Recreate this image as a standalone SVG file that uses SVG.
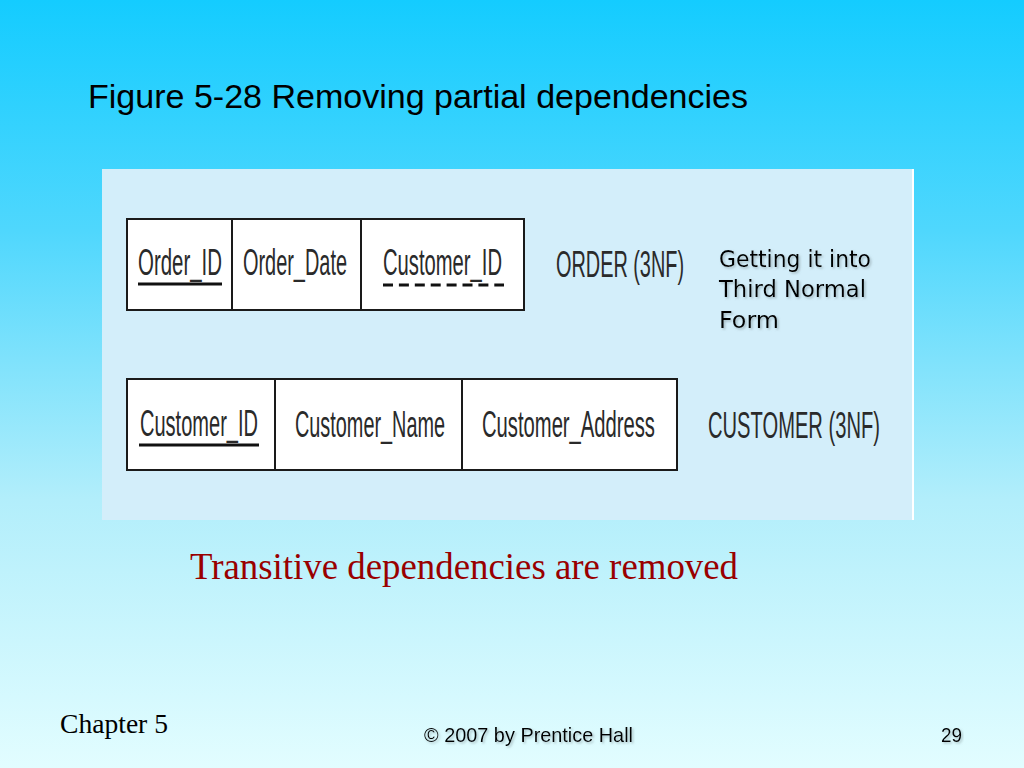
<svg xmlns="http://www.w3.org/2000/svg" width="1024" height="768" viewBox="0 0 1024 768">
  <defs>
    <linearGradient id="bg" x1="0" y1="0" x2="0" y2="1">
      <stop offset="0" stop-color="#14ccff"/>
      <stop offset="0.3" stop-color="#4fd7fd"/>
      <stop offset="0.65" stop-color="#b2eefb"/>
      <stop offset="1" stop-color="#e2fdff"/>
    </linearGradient>
    <filter id="shadow" x="-5%" y="-20%" width="110%" height="150%">
      <feDropShadow dx="1.5" dy="1.5" stdDeviation="0.8" flood-color="#7a8a90" flood-opacity="0.55"/>
    </filter>
  </defs>
  <style>
    .cell { fill: #ffffff; stroke: #1a1a1a; stroke-width: 2; }
    .div { stroke: #1a1a1a; stroke-width: 2; }
    .attr { font-family: "Liberation Sans", Arial, sans-serif; font-size: 36px; fill: #2a2a2a; }
    .key { stroke: #111; stroke-width: 3; }
    .fk { stroke: #111; stroke-width: 3; stroke-dasharray: 10 5.9; }
    .note { font-family: "DejaVu Sans", Tahoma, sans-serif; font-size: 22.5px; fill: #000; }
    .foot { font-family: "Liberation Sans", Arial, sans-serif; font-size: 21px; fill: #000; }
  </style>

  <rect x="0" y="0" width="1024" height="768" fill="url(#bg)"/>

  <text id="title" x="88" y="108" font-family="Liberation Sans, Arial, sans-serif" font-size="34" fill="#000" textLength="660" lengthAdjust="spacingAndGlyphs">Figure 5-28 Removing partial dependencies</text>

  <g id="panel">
    <rect x="102" y="169" width="810" height="351" fill="#d3eefa"/>
    <rect x="912" y="169" width="2" height="351" fill="#ffffff"/>
  </g>

  <g id="order-table">
    <rect class="cell" x="127" y="219" width="397" height="91"/>
    <line class="div" x1="232" y1="219" x2="232" y2="310"/>
    <line class="div" x1="361" y1="219" x2="361" y2="310"/>
    <text class="attr" transform="matrix(0.56 0 0 1 138 275)" textLength="150" lengthAdjust="spacingAndGlyphs">Order_ID</text>
    <line class="key" x1="138" y1="284" x2="222" y2="284"/>
    <text class="attr" transform="matrix(0.56 0 0 1 243 275)" textLength="185.7" lengthAdjust="spacingAndGlyphs">Order_Date</text>
    <text class="attr" transform="matrix(0.56 0 0 1 383 275)" textLength="212.5" lengthAdjust="spacingAndGlyphs">Customer_ID</text>
    <line class="fk" x1="383" y1="285" x2="504" y2="285"/>
  </g>
  <text id="order-label" class="attr" transform="matrix(0.56 0 0 1 556 277)" textLength="228.6" lengthAdjust="spacingAndGlyphs">ORDER (3NF)</text>

  <g id="note" filter="url(#shadow)">
    <text class="note" x="719" y="267" textLength="152" lengthAdjust="spacingAndGlyphs">Getting it into</text>
    <text class="note" x="719" y="297" textLength="147" lengthAdjust="spacingAndGlyphs">Third Normal</text>
    <text class="note" x="719" y="328" textLength="60" lengthAdjust="spacingAndGlyphs">Form</text>
  </g>

  <g id="customer-table">
    <rect class="cell" x="127" y="379" width="550" height="91"/>
    <line class="div" x1="275" y1="379" x2="275" y2="470"/>
    <line class="div" x1="462" y1="379" x2="462" y2="470"/>
    <text class="attr" transform="matrix(0.56 0 0 1 140 436)" textLength="210.7" lengthAdjust="spacingAndGlyphs">Customer_ID</text>
    <line class="key" x1="139" y1="445" x2="259" y2="445"/>
    <text class="attr" transform="matrix(0.56 0 0 1 295 437)" textLength="267.9" lengthAdjust="spacingAndGlyphs">Customer_Name</text>
    <text class="attr" transform="matrix(0.56 0 0 1 482 437)" textLength="308.9" lengthAdjust="spacingAndGlyphs">Customer_Address</text>
  </g>
  <text id="customer-label" class="attr" transform="matrix(0.56 0 0 1 708 438)" textLength="307.1" lengthAdjust="spacingAndGlyphs">CUSTOMER (3NF)</text>

  <text id="caption" x="190" y="579" font-family="Liberation Serif, Times New Roman, serif" font-size="37" fill="#990000" textLength="548" lengthAdjust="spacingAndGlyphs">Transitive dependencies are removed</text>

  <g id="footer">
    <text x="60" y="733" font-family="Liberation Serif, Times New Roman, serif" font-size="27.5" fill="#000" textLength="108" lengthAdjust="spacingAndGlyphs">Chapter 5</text>
    <text class="foot" x="424" y="742" filter="url(#shadow)" textLength="209" lengthAdjust="spacingAndGlyphs">© 2007 by Prentice Hall</text>
    <text class="foot" x="941" y="742" filter="url(#shadow)" textLength="21" lengthAdjust="spacingAndGlyphs">29</text>
  </g>
</svg>
